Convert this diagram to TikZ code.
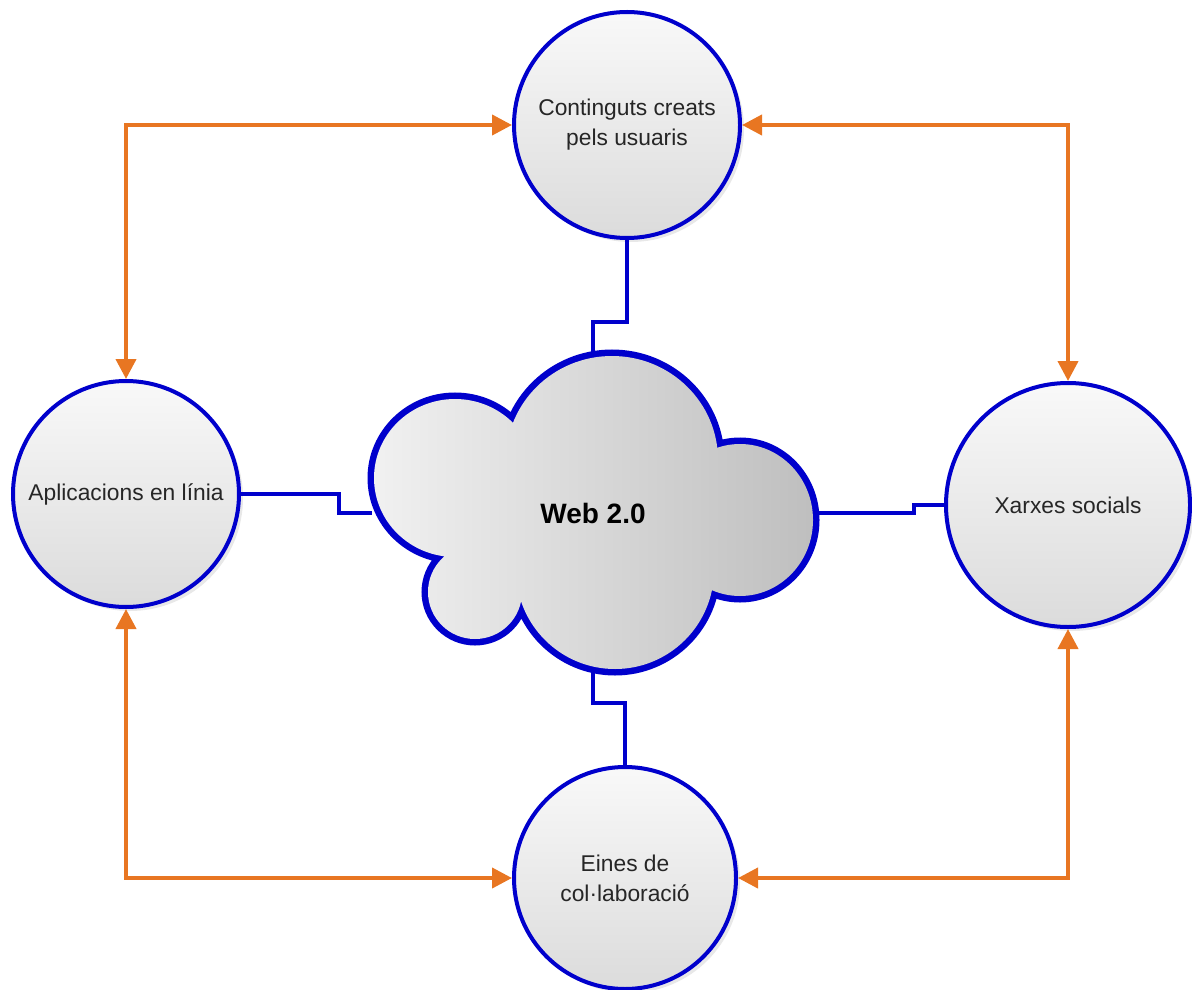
\documentclass[tikz,border=0pt]{standalone}
\usepackage{fontspec}
\setmainfont{Liberation Sans}
\usetikzlibrary{arrows.meta, shadows, calc}
\definecolor{lineBlue}{RGB}{0,0,204}
\definecolor{arrowOrange}{RGB}{232,118,34}
\tikzset{
  topic/.style={circle, draw=lineBlue, line width=2pt, top color=gray!5, bottom color=gray!28,
    minimum size=#1, inner sep=0pt, align=center, text=black!85,
    font=\fontsize{11.4}{15}\selectfont,
    drop shadow={opacity=0.18, shadow xshift=2pt, shadow yshift=-2pt}},
  link/.style={draw=lineBlue, line width=1.75pt},
  both/.style={draw=arrowOrange, line width=2pt, >={Triangle[length=10pt,width=10pt]}, <->},
}
\begin{document}
\begin{tikzpicture}[x=0.5pt,y=-0.5pt]
\useasboundingbox (0,0) rectangle (1192,989);

% the four topics
\node[topic=113pt] (usr) at (627,125) {Continguts creats\\pels usuaris};
\node[topic=113pt] (apl) at (126,494) {Aplicacions en línia};
\node[topic=122pt] (xar) at (1068,505) {Xarxes socials};
\node[topic=111pt] (ein) at (625,878) {Eines de\\col·laboració};

% orange links between the topics
\draw[both] (usr.west) -| (apl.north);
\draw[both] (usr.east) -| (xar.north);
\draw[both] (ein.west) -| (apl.south);
\draw[both] (ein.east) -| (xar.south);

% ends of the blue links on the cloud
\coordinate (webN) at (593,356);
\coordinate (webW) at (372,513);
\coordinate (webE) at (815,513);
\coordinate (webS) at (593,670);
\draw[link] (usr.south) -- ++(0,82) -| (webN);
\draw[link] (apl.east) -- ++(98,0) |- (webW);
\draw[link] (xar.west) -- ++(-30,0) |- (webE);
\draw[link] (ein.north) -- ++(0,-62) -| (webS);

% cloud: thick lobe outlines, then shaded union on top
\def\lobes{(612,460) ellipse [x radius=106, y radius=104]
  (740,520) ellipse [x radius=73, y radius=76]
  (615,570) circle [radius=99]
  (475,592) circle [radius=47]
  (455,478) ellipse [x radius=81, y radius=79]}
\draw[lineBlue, line width=6.5pt] \lobes;
\begin{scope}
  \clip \lobes (600,515) ellipse [x radius=125, y radius=85];
  \shade[left color=gray!10, right color=gray!52] (360,340) rectangle (830,690);
\end{scope}
\node[font=\bfseries\fontsize{14}{16}\selectfont] (web) at (593,513) {Web 2.0};
\end{tikzpicture}
\end{document}
